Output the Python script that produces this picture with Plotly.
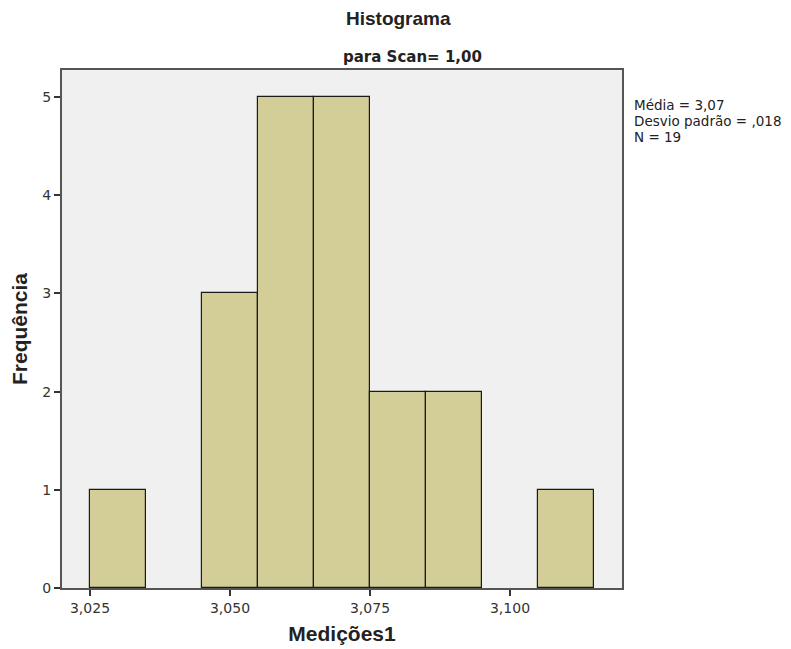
import plotly.graph_objects as go

bin_centers = [3.030, 3.050, 3.060, 3.070, 3.080, 3.090, 3.110]
counts = [1, 3, 5, 5, 2, 2, 1]
bin_width = 0.01
x_ticks = [3.025, 3.050, 3.075, 3.100]
x_tick_labels = ["3,025", "3,050", "3,075", "3,100"]
y_ticks = [0, 1, 2, 3, 4, 5]
stats_lines = ["Média = 3,07", "Desvio padrão = ,018", "N = 19"]

fig = go.Figure()
fig.add_trace(go.Bar(
    x=bin_centers, y=counts, width=[bin_width] * len(counts),
    marker=dict(color="#D3CE97", line=dict(color="#1a1a1a", width=1.2)),
    hoverinfo="x+y",
))

lib = "Liberation Sans, Arial, sans-serif"
dej = "DejaVu Sans, sans-serif"
fig.update_layout(
    width=783, height=641,
    margin=dict(l=54, r=169, t=62, b=61, autoexpand=False),
    paper_bgcolor="white", plot_bgcolor="#F0F0F0",
    showlegend=False, bargap=0,
    font=dict(family=dej, color="#222"),
    xaxis=dict(
        range=[3.02, 3.12], tickvals=x_ticks, ticktext=x_tick_labels,
        ticks="outside", ticklen=6, tickcolor="#333", tickwidth=1.5,
        showgrid=False, zeroline=False, automargin=False,
        showline=True, linecolor="#555", linewidth=2, mirror=True,
        tickfont=dict(family=dej, size=14, color="#333"),
        title=dict(text="<b>Medições1</b>", font=dict(family=lib, size=21, color="#222"), standoff=12),
    ),
    yaxis=dict(
        range=[0, 5.275], tickvals=y_ticks,
        ticks="outside", ticklen=6, tickcolor="#333", tickwidth=1.5,
        showgrid=False, zeroline=False, automargin=False,
        showline=True, linecolor="#555", linewidth=2, mirror=True,
        tickfont=dict(family=dej, size=14, color="#333"),
        title=dict(text="<b>Frequência</b>", font=dict(family=lib, size=21, color="#222"), standoff=10),
    ),
    annotations=[
        dict(text="<b>Histograma</b>", xref="paper", yref="paper", x=(398 - 62) / 560, y=1,
             yshift=52, xanchor="center", yanchor="middle", showarrow=False,
             font=dict(family=lib, size=19, color="#222")),
        dict(text="<b>para Scan= 1,00</b>", xref="paper", yref="paper", x=(412 - 62) / 560, y=1,
             yshift=13, xanchor="center", yanchor="middle", showarrow=False,
             font=dict(family=dej, size=15, color="#222")),
    ] + [
        dict(text=line, xref="paper", yref="paper", x=1, xshift=10, y=1, yshift=-35 - 16 * i,
             xanchor="left", yanchor="middle", align="left", showarrow=False,
             font=dict(family=dej, size=13.5, color="#222"))
        for i, line in enumerate(stats_lines)
    ],
)

fig.write_html("out.html")
